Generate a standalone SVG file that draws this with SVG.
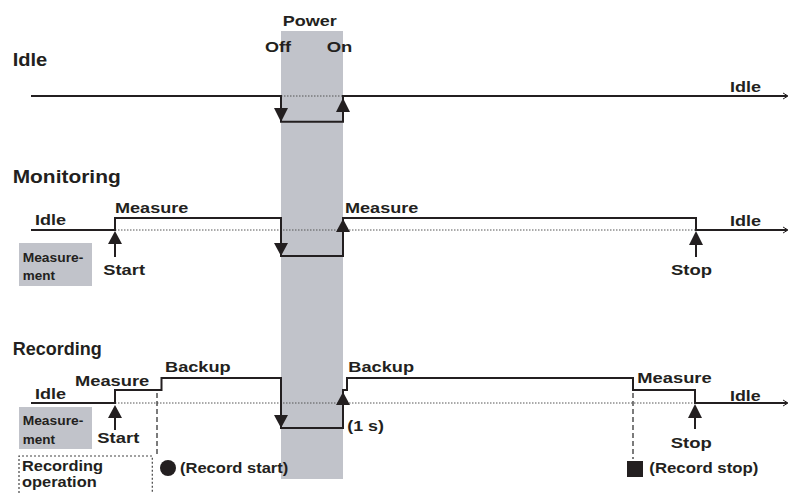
<svg xmlns="http://www.w3.org/2000/svg" width="788" height="493" viewBox="0 0 788 493">
<style>
.t{font-family:"Liberation Sans",Arial,sans-serif;font-weight:bold;fill:#231f20;}
.h{font-size:17.5px;}
.l{font-size:15.5px;}
.s{font-size:13.5px;}
.sig{fill:none;stroke:#231f20;stroke-width:2;}
.dot{fill:none;stroke:#555;stroke-width:1;stroke-dasharray:1.5 1.5;}
.dash{fill:none;stroke:#444;stroke-width:1.4;stroke-dasharray:5 3;}
.box{fill:none;stroke:#444;stroke-width:1.2;stroke-dasharray:2 2;}
.ah{fill:#231f20;}
.gray{fill:#c1c3ca;}
.end{fill:none;stroke:#231f20;stroke-width:1;}
</style>
<rect id="power-band" class="gray" x="281" y="31" width="62" height="448"/>
<g id="power-labels">
<text class="t l" x="282.7" y="26" textLength="54" lengthAdjust="spacingAndGlyphs">Power</text>
<text class="t l" x="265" y="51.5" textLength="26" lengthAdjust="spacingAndGlyphs">Off</text>
<text class="t l" x="326.7" y="51.5" textLength="25.6" lengthAdjust="spacingAndGlyphs">On</text>
</g>
<g id="row-idle">
<text class="t h" x="12.7" y="66" textLength="34.6" lengthAdjust="spacingAndGlyphs">Idle</text>
<text class="t l" x="730" y="92" textLength="31" lengthAdjust="spacingAndGlyphs">Idle</text>
</g>
<g id="row-monitoring">
<text class="t h" x="12.7" y="182.5" textLength="108" lengthAdjust="spacingAndGlyphs">Monitoring</text>
<text class="t l" x="35" y="225" textLength="31" lengthAdjust="spacingAndGlyphs">Idle</text>
<text class="t l" x="115" y="213" textLength="73.3" lengthAdjust="spacingAndGlyphs">Measure</text>
<text class="t l" x="345" y="213" textLength="73.3" lengthAdjust="spacingAndGlyphs">Measure</text>
<text class="t l" x="730" y="225.5" textLength="31" lengthAdjust="spacingAndGlyphs">Idle</text>
<text class="t l" x="103.3" y="275" textLength="41.7" lengthAdjust="spacingAndGlyphs">Start</text>
<text class="t l" x="671" y="275" textLength="41" lengthAdjust="spacingAndGlyphs">Stop</text>
</g>
<g id="measurement-box-1">
<rect class="gray" x="19" y="243" width="73" height="43"/>
<text class="t s" x="22.7" y="261.7" textLength="60.6" lengthAdjust="spacingAndGlyphs">Measure-</text>
<text class="t s" x="22.7" y="280" textLength="32.3" lengthAdjust="spacingAndGlyphs">ment</text>
</g>
<g id="row-recording">
<text class="t h" x="12.7" y="355" textLength="89" lengthAdjust="spacingAndGlyphs">Recording</text>
<text class="t l" x="35" y="399" textLength="31" lengthAdjust="spacingAndGlyphs">Idle</text>
<text class="t l" x="75" y="386" textLength="74.3" lengthAdjust="spacingAndGlyphs">Measure</text>
<text class="t l" x="165" y="372" textLength="65.7" lengthAdjust="spacingAndGlyphs">Backup</text>
<text class="t l" x="348.3" y="372" textLength="65.7" lengthAdjust="spacingAndGlyphs">Backup</text>
<text class="t l" x="347.3" y="431" textLength="36.7" lengthAdjust="spacingAndGlyphs">(1 s)</text>
<text class="t l" x="637.3" y="382.7" textLength="74.4" lengthAdjust="spacingAndGlyphs">Measure</text>
<text class="t l" x="730" y="400.7" textLength="30.7" lengthAdjust="spacingAndGlyphs">Idle</text>
<text class="t l" x="97.3" y="443.3" textLength="42" lengthAdjust="spacingAndGlyphs">Start</text>
<text class="t l" x="670.7" y="448.3" textLength="41" lengthAdjust="spacingAndGlyphs">Stop</text>
</g>
<g id="measurement-box-2">
<rect class="gray" x="19" y="407" width="73" height="42"/>
<text class="t s" x="22.7" y="425" textLength="60.6" lengthAdjust="spacingAndGlyphs">Measure-</text>
<text class="t s" x="22.7" y="444.3" textLength="32.3" lengthAdjust="spacingAndGlyphs">ment</text>
</g>
<g id="recording-operation">
<path class="box" d="M19,493 V456 H152.3 V493"/>
<text class="t" x="22" y="471" textLength="81" lengthAdjust="spacingAndGlyphs" style="font-size:14.5px">Recording</text>
<text class="t" x="22" y="487" textLength="74.7" lengthAdjust="spacingAndGlyphs" style="font-size:14.5px">operation</text>
</g>
<g id="record-start">
<circle class="ah" cx="168" cy="468" r="8"/>
<text class="t l" x="180" y="472.7" textLength="108.3" lengthAdjust="spacingAndGlyphs">(Record start)</text>
</g>
<g id="record-stop">
<rect class="ah" x="627" y="461" width="16" height="16"/>
<text class="t l" x="649.3" y="472.7" textLength="109" lengthAdjust="spacingAndGlyphs">(Record stop)</text>
</g>
<g id="connectors">
<line class="dot" x1="281" y1="96" x2="343" y2="96"/>
<line class="dot" x1="115" y1="230" x2="696" y2="230"/>
<line class="dot" x1="115" y1="403" x2="695" y2="403"/>
<path class="sig" d="M31,96 H281 V121.7 H343 V96 H787"/>
<path class="end" d="M783,93 L788,96 L783,99"/>
<polygon class="ah" points="274,108 288,108 281,122"/>
<polygon class="ah" points="336,112 350,112 343,98"/>
<path class="sig" d="M31,230 H115 V218 H281 V256 H343 V218 H696 V230 H787"/>
<path class="end" d="M783,227 L788,230 L783,233"/>
<polygon class="ah" points="274,243 288,243 281,256"/>
<polygon class="ah" points="336,232 350,232 343,219"/>
<line class="sig" x1="115" y1="240" x2="115" y2="257"/>
<polygon class="ah" points="108,244 122,244 115,231"/>
<line class="sig" x1="696" y1="240" x2="696" y2="257"/>
<polygon class="ah" points="689,245 703,245 696,231"/>
<path class="sig" d="M31,403 H115 V390 H161.5 V378 H281 V428 H343 V390 H347 V378 H633 V390 H695 V403 H787"/>
<path class="end" d="M783,400 L788,403 L783,406"/>
<polygon class="ah" points="274,415 288,415 281,428"/>
<polygon class="ah" points="336,405 350,405 343,392"/>
<line class="sig" x1="115" y1="415" x2="115" y2="430"/>
<polygon class="ah" points="108,418 122,418 115,405"/>
<line class="sig" x1="695" y1="415" x2="695" y2="429"/>
<polygon class="ah" points="688,418 702,418 695,404"/>
<line class="dash" x1="157" y1="393" x2="157" y2="455"/>
<line class="dash" x1="633" y1="393" x2="633" y2="459"/>
</g>
</svg>
